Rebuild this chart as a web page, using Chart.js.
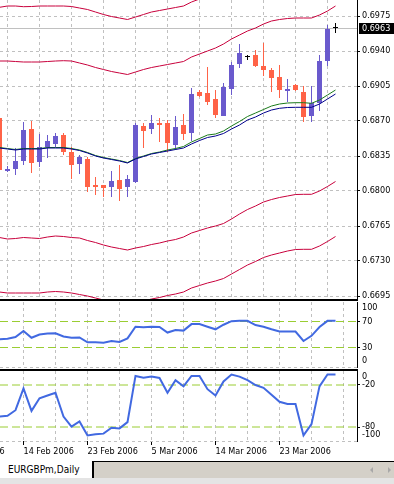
<!DOCTYPE html>
<html><head><meta charset="utf-8"><title>EURGBPm,Daily</title>
<script src="https://cdn.jsdelivr.net/npm/chart.js@4.4.1/dist/chart.umd.min.js"></script>
<style>
html,body{margin:0;padding:0;background:#fff;}
#wrap{position:relative;width:394px;height:484px;overflow:hidden;background:#fff;}
#wrap canvas{position:absolute;left:0;}
#cMain{top:0;} #cRsi{top:299px;} #cWpr{top:369px;}
#tabbar{position:absolute;left:0;top:461px;width:394px;height:16px;background:#d4d0c8;border-top:1px solid #000;}
#tabbottom{position:absolute;left:0;top:478px;width:394px;height:6px;background:#e4e4e4;}
#tab{position:absolute;left:0;top:461px;width:92px;height:17px;background:#fff;border-right:2px solid #000;font:10px 'DejaVu Sans Condensed','DejaVu Sans',sans-serif;color:#000;line-height:17px;text-indent:8px;white-space:nowrap;}
.arr{position:absolute;top:467px;width:0;height:0;border-top:3px solid transparent;border-bottom:3px solid transparent;}
#al{left:370px;border-right:3px solid #a8a8a8;}
#ar{left:388px;border-left:3px solid #a8a8a8;}
</style></head>
<body>
<div id="wrap">
  <canvas id="cMain" width="394" height="299"></canvas>
  <canvas id="cRsi" width="394" height="70"></canvas>
  <canvas id="cWpr" width="394" height="91"></canvas>
  <div id="tabbar"></div>
  <div id="tabbottom"></div>
  <div id="tab">EURGBPm,Daily</div>
  <div class="arr" id="al"></div><div class="arr" id="ar"></div>
</div>
<script>
// ---------- data ----------
const dates = ['10 Feb 2006','12 Feb 2006','13 Feb 2006','14 Feb 2006','15 Feb 2006','16 Feb 2006','17 Feb 2006','19 Feb 2006','20 Feb 2006','21 Feb 2006','22 Feb 2006','23 Feb 2006','24 Feb 2006','26 Feb 2006','27 Feb 2006','28 Feb 2006','1 Mar 2006','2 Mar 2006','3 Mar 2006','5 Mar 2006','6 Mar 2006','7 Mar 2006','8 Mar 2006','9 Mar 2006','10 Mar 2006','12 Mar 2006','13 Mar 2006','14 Mar 2006','15 Mar 2006','16 Mar 2006','17 Mar 2006','19 Mar 2006','20 Mar 2006','21 Mar 2006','22 Mar 2006','23 Mar 2006','24 Mar 2006','26 Mar 2006','27 Mar 2006','28 Mar 2006','29 Mar 2006','30 Mar 2006','31 Mar 2006'];
const opens  = [0.6873,0.6820,0.6822,0.6830,0.6862,0.6829,0.6844,0.6847,0.6856,0.6839,0.6827,0.6832,0.6806,0.6806,0.6804,0.6811,0.6804,0.6809,0.6865,0.6862,0.6868,0.6868,0.6846,0.6866,0.6858,0.6899,0.6898,0.6892,0.6875,0.6902,0.6927,0.6934,0.6936,0.6925,0.6921,0.6914,0.6900,0.6906,0.6899,0.6875,0.6888,0.6930,0.6963];
const highs  = [0.6874,0.6825,0.6843,0.6869,0.6870,0.6857,0.6856,0.6858,0.6858,0.6844,0.6836,0.6834,0.6814,0.6806,0.6820,0.6826,0.6816,0.6868,0.6868,0.6876,0.6873,0.6871,0.6875,0.6877,0.6903,0.6901,0.6924,0.6901,0.6908,0.6929,0.6947,0.6936,0.6941,0.6948,0.6923,0.6926,0.6912,0.6907,0.6905,0.6905,0.6936,0.6966,0.6968];
const lows   = [0.6819,0.6819,0.6816,0.6826,0.6818,0.6824,0.6833,0.6844,0.6836,0.6812,0.6817,0.6799,0.6796,0.6794,0.6794,0.6790,0.6794,0.6808,0.6843,0.6857,0.6849,0.6839,0.6841,0.6851,0.6850,0.6894,0.6886,0.6873,0.6875,0.6896,0.6923,0.6931,0.6924,0.6915,0.6899,0.6893,0.6889,0.6900,0.6869,0.6869,0.6880,0.6925,0.6958];
const closes = [0.6821,0.6822,0.6830,0.6861,0.6828,0.6844,0.6850,0.6855,0.6839,0.6826,0.6834,0.6804,0.6804,0.6803,0.6810,0.6802,0.6812,0.6866,0.6860,0.6868,0.6866,0.6848,0.6864,0.6857,0.6897,0.6895,0.6889,0.6876,0.6904,0.6926,0.6938,0.6934,0.6925,0.6921,0.6913,0.6901,0.6902,0.6901,0.6874,0.6888,0.6930,0.6962,0.6963];
const maBlue  = [0.6843,0.6842,0.6841,0.6842,0.6842,0.6842,0.6843,0.6843,0.6843,0.6842,0.68405,0.6838,0.6835,0.6833,0.68315,0.6830,0.6828,0.6832,0.68345,0.6837,0.68385,0.6840,0.68415,0.6843,0.6847,0.68505,0.68535,0.6855,0.68575,0.6862,0.6866,0.6871,0.6874,0.6878,0.6881,0.68827,0.68835,0.68837,0.68837,0.68837,0.6887,0.6892,0.6897];
const maGreen = [0.68435,0.68425,0.68415,0.68425,0.68425,0.68425,0.68435,0.68435,0.68435,0.68425,0.6841,0.68385,0.68355,0.68335,0.6832,0.68305,0.68285,0.68325,0.6835,0.68375,0.6839,0.6841,0.68425,0.68445,0.6849,0.68525,0.6856,0.6857,0.6860,0.6865,0.68695,0.68745,0.6878,0.68815,0.6885,0.6887,0.6888,0.68883,0.68883,0.68877,0.6891,0.6896,0.6901];
const envUp2 = [0.69837,0.6985,0.6985,0.69843,0.69845,0.6985,0.6985,0.6985,0.6985,0.69845,0.6983,0.69815,0.6979,0.69765,0.69745,0.6973,0.69715,0.6974,0.69765,0.6979,0.69805,0.6982,0.69835,0.6985,0.6989,0.6992];
const envUp1 = [0.6930,0.6930,0.69295,0.6929,0.6929,0.6929,0.69295,0.6930,0.69303,0.6930,0.6928,0.6926,0.69235,0.69215,0.69195,0.6918,0.69165,0.6919,0.69215,0.69235,0.6925,0.69265,0.6928,0.69295,0.6934,0.6937,0.6940,0.6943,0.6947,0.6952,0.6956,0.6960,0.6963,0.6967,0.6970,0.69715,0.69725,0.6973,0.6973,0.6973,0.6976,0.6980,0.6985];
const envDn1 = [0.67535,0.6752,0.67525,0.67535,0.6753,0.67525,0.6754,0.6755,0.67545,0.67535,0.6753,0.67505,0.67485,0.6746,0.6744,0.67425,0.6741,0.6743,0.67445,0.67465,0.6748,0.6750,0.67515,0.6754,0.6758,0.67605,0.6763,0.6765,0.67675,0.6772,0.6777,0.67815,0.6785,0.6789,0.67915,0.67935,0.6795,0.67965,0.67967,0.67967,0.6800,0.68045,0.68095];
const envDn2 = [0.6699,0.6698,0.6698,0.6698,0.6698,0.6698,0.6699,0.66995,0.6699,0.6698,0.66965,0.6695,0.6693,0.6691,0.6689,0.66875,0.6686,0.6688,0.6690,0.6692,0.66935,0.66955,0.6697,0.6699,0.6703,0.67055,0.6708,0.6710,0.67125,0.6717,0.67215,0.6726,0.67295,0.67335,0.6736,0.6738,0.6740,0.67415,0.67417,0.67417,0.6745,0.67495,0.67545];
const rsi = [42.5,43.5,46,55.5,45,50,51.5,52,47,45,45.5,38,38,37.5,40,38.5,44,62,61,62,61.5,53,57,56,66,66,62,58,65,70.5,71,71,64.5,62,58,54.5,54.5,54.5,40,48,61.5,71,71];
const wpr = [-65,-64,-56,-25,-57,-39,-35,-31,-65,-79.5,-72,-92,-90.5,-89.5,-81,-82,-73,-7,-9.5,-8,-10,-31,-13,-22,-7,-7,-26,-35,-15,-5,-8,-13,-20,-24,-34,-44,-47,-47,-92,-76,-22,-5,-5];
const priceTicks = [0.6695,0.6730,0.6765,0.6800,0.6835,0.6870,0.6905,0.6940,0.6975];
const rsiTicks = [0,30,70,100];
const rsiLevels = [30,70];
const wprTicks = [-100,-80,-20,0];
const wprLevels = [-80,-20];
const gridBars = [3,7,11,15,19,23,27,31,35,39,43];
const axisLabelBars = [3,11,19,27,35];
const axisLabels = ['14 Feb 2006','23 Feb 2006','5 Mar 2006','14 Mar 2006','23 Mar 2006'];
const partialLabelBar = -5;
const partialLabel = '5 Feb 2006';

// ---------- styling / layout ----------
const X_MIN = 0.0625, X_MAX = 44.6875;
const PRICE_MIN = 0.6692, PRICE_MAX = 0.6991;
const AXIS_W = 37;
const FAM = "'DejaVu Sans Condensed','DejaVu Sans',sans-serif";
const FONT = {family: FAM, size: 9};
const GRID = '#c0c0c0';
const CLEAR = 'rgba(0,0,0,0)';
const UP = '#6a5acd', DOWN = '#ff6347', DOJI = '#000000';
const X_TICK_LEN = 4, X_TICK_PAD = 1;
const lastPrice = closes[closes.length - 1];

const idx = dates.map((d, i) => i);
const pts = (arr) => arr.map((v, i) => ({x: i, y: v}));
const candleColor = (i) => closes[i] > opens[i] ? UP : (closes[i] < opens[i] ? DOWN : DOJI);

function makeX(withLabels) {
  return {
    type: 'linear', position: 'bottom', min: X_MIN, max: X_MAX, offset: false,
    afterBuildTicks: (s) => { s.ticks = gridBars.map(v => ({value: v})); },
    afterFit: (s) => {
      s.height = withLabels ? 19 : 0;
      s.paddingLeft = 0; s.paddingRight = 0; s.paddingTop = 0; s.paddingBottom = 0;
    },
    grid: {
      color: GRID, lineWidth: 1, drawTicks: withLabels, tickLength: X_TICK_LEN,
      tickColor: (c) => (c.tick && axisLabelBars.includes(c.tick.value)) ? '#000' : CLEAR
    },
    border: {display: false, dash: [3, 3]},
    ticks: {
      display: withLabels, autoSkip: false, maxRotation: 0, minRotation: 0,
      align: 'start', padding: X_TICK_PAD, color: '#000', font: FONT,
      callback: (v) => { const k = axisLabelBars.indexOf(v); return k >= 0 ? axisLabels[k] : ''; }
    }
  };
}

function makeY(min, max, tickVals, opt) {
  return {
    type: 'linear', position: 'right', min: min, max: max,
    afterBuildTicks: (s) => { s.ticks = tickVals.map(v => ({value: v})); },
    afterFit: (s) => {
      s.width = AXIS_W;
      s.paddingLeft = 0; s.paddingRight = 0; s.paddingTop = 0; s.paddingBottom = 0;
    },
    grid: {color: opt.gridColor, lineWidth: 1, drawTicks: true, tickLength: 3, tickColor: opt.tickColor},
    border: {display: true, color: '#000', width: 1, dash: [3, 3]},
    ticks: {color: '#000', font: FONT, padding: 2, autoSkip: false, callback: opt.label}
  };
}

const panelTop = {
  id: 'panelTop',
  afterDraw(chart, args, o) {
    if (!o.show) return;
    const ctx = chart.ctx, a = chart.chartArea;
    ctx.save(); ctx.fillStyle = '#000';
    ctx.fillRect(0, 0, a.right + 1, 2);
    ctx.restore();
  }
};

const edgeLabels = {
  id: 'edgeLabels',
  afterDraw(chart, args, o) {
    if (!o.show) return;
    const y = chart.scales.y, ctx = chart.ctx;
    const t = y.ticks;
    const first = t[0].value, last = t[t.length - 1].value;
    ctx.save();
    ctx.font = '9px ' + FAM; ctx.fillStyle = '#000';
    ctx.textAlign = 'left'; ctx.textBaseline = 'middle';
    ctx.fillText(String(last), y.left + 5, y.getPixelForValue(last) + 6);
    ctx.fillText(String(first), y.left + 5, y.getPixelForValue(first) - 6);
    ctx.restore();
  }
};

const partialDate = {
  id: 'partialDate',
  afterDraw(chart) {
    const x = chart.scales.x, ctx = chart.ctx;
    ctx.save();
    ctx.font = '9px ' + FAM; ctx.fillStyle = '#000';
    ctx.textAlign = 'left'; ctx.textBaseline = 'middle';
    ctx.fillText(partialLabel, x.getPixelForValue(partialLabelBar), x.top + X_TICK_LEN + X_TICK_PAD + 5.4);
    ctx.restore();
  }
};

const lastPricePlugin = {
  id: 'lastPrice',
  beforeDatasetsDraw(chart) {
    const ctx = chart.ctx, a = chart.chartArea, y = chart.scales.y;
    const py = Math.round(y.getPixelForValue(lastPrice)) + 0.5;
    ctx.save(); ctx.strokeStyle = '#c0c0c0'; ctx.lineWidth = 1;
    ctx.beginPath(); ctx.moveTo(a.left, py); ctx.lineTo(a.right, py); ctx.stroke();
    ctx.restore();
  },
  afterDraw(chart) {
    const ctx = chart.ctx, a = chart.chartArea, y = chart.scales.y;
    const py = Math.round(y.getPixelForValue(lastPrice));
    ctx.save();
    ctx.fillStyle = '#000'; ctx.fillRect(a.right + 2, py - 5, AXIS_W - 2, 11);
    ctx.fillStyle = '#fff'; ctx.font = '9px ' + FAM;
    ctx.textAlign = 'left'; ctx.textBaseline = 'middle';
    ctx.fillText(lastPrice.toFixed(4), a.right + 5, py + 0.5);
    ctx.restore();
  }
};

const common = {
  responsive: false, animation: false, events: [],
  plugins: {legend: {display: false}, tooltip: {enabled: false}}
};

function lineDs(arr, color, width, order) {
  return {type: 'line', data: pts(arr), borderColor: color, borderWidth: width,
          pointRadius: 0, fill: false, tension: 0, order: order};
}

// ---------- main price chart ----------
new Chart(document.getElementById('cMain'), {
  type: 'bar',
  data: {
    datasets: [
      {type: 'bar', data: idx.map(i => ({x: i, y: [lows[i], highs[i]]})),
       backgroundColor: idx.map(candleColor), borderWidth: 0, grouped: false,
       barThickness: 1, maxBarThickness: 1, inflateAmount: 0, order: 4},
      {type: 'bar', data: idx.map(i => ({x: i, y: [opens[i], closes[i]]})),
       backgroundColor: idx.map(candleColor), borderWidth: 0, grouped: false,
       barThickness: 5, maxBarThickness: 5, minBarLength: 1, inflateAmount: 0, order: 3},
      lineDs(envUp2, '#c8003c', 1, 1),
      lineDs(envUp1, '#c8003c', 1, 1),
      lineDs(envDn1, '#c8003c', 1, 1),
      lineDs(envDn2, '#c8003c', 1, 1),
      lineDs(maGreen, '#1a7a1a', 1, 1),
      lineDs(maBlue, '#00008b', 1, 0)
    ]
  },
  options: Object.assign({}, common, {
    layout: {padding: {top: 0, bottom: 0, left: 0, right: 0}},
    scales: {
      x: makeX(false),
      y: makeY(PRICE_MIN, PRICE_MAX, priceTicks, {
        gridColor: GRID, tickColor: '#000', label: (v) => Number(v).toFixed(4)
      })
    }
  }),
  plugins: [lastPricePlugin]
});

// ---------- RSI panel ----------
new Chart(document.getElementById('cRsi'), {
  type: 'line',
  data: {
    datasets: [lineDs(rsi, '#4169e1', 2, 0)].concat(rsiLevels.map(l => ({
      type: 'line', data: [{x: X_MIN, y: l}, {x: X_MAX, y: l}], borderColor: '#9acd32',
      borderWidth: 1, borderDash: [8, 4], pointRadius: 0, order: 1
    })))
  },
  options: Object.assign({}, common, {
    layout: {padding: {top: 3, bottom: 2, left: 0, right: 0}},
    plugins: Object.assign({}, common.plugins, {panelTop: {show: true}, edgeLabels: {show: true}}),
    scales: {
      x: makeX(false),
      y: makeY(0, 100, rsiTicks, {
        gridColor: (c) => (c.tick && c.tick.value === rsiTicks[0]) ? GRID : CLEAR,
        tickColor: (c) => (c.tick && rsiLevels.includes(c.tick.value)) ? '#000' : CLEAR,
        label: (v, i, arr) => (i === 0 || i === arr.length - 1) ? '' : String(v)
      })
    }
  }),
  plugins: [panelTop, edgeLabels]
});

// ---------- Williams %R panel ----------
new Chart(document.getElementById('cWpr'), {
  type: 'line',
  data: {
    datasets: [lineDs(wpr, '#4169e1', 2, 0)].concat(wprLevels.map(l => ({
      type: 'line', data: [{x: X_MIN, y: l}, {x: X_MAX, y: l}], borderColor: '#9acd32',
      borderWidth: 1, borderDash: [8, 4], pointRadius: 0, order: 1
    })))
  },
  options: Object.assign({}, common, {
    layout: {padding: {top: 2, bottom: 0, left: 0, right: 0}},
    plugins: Object.assign({}, common.plugins, {panelTop: {show: true}, edgeLabels: {show: true}}),
    scales: {
      x: makeX(true),
      y: makeY(-100, 0, wprTicks, {
        gridColor: (c) => (c.tick && c.tick.value === wprTicks[0]) ? GRID : CLEAR,
        tickColor: (c) => (c.tick && wprLevels.includes(c.tick.value)) ? '#000' : CLEAR,
        label: (v, i, arr) => (i === 0 || i === arr.length - 1) ? '' : String(v)
      })
    }
  }),
  plugins: [panelTop, edgeLabels, partialDate]
});
</script>
</body></html>
